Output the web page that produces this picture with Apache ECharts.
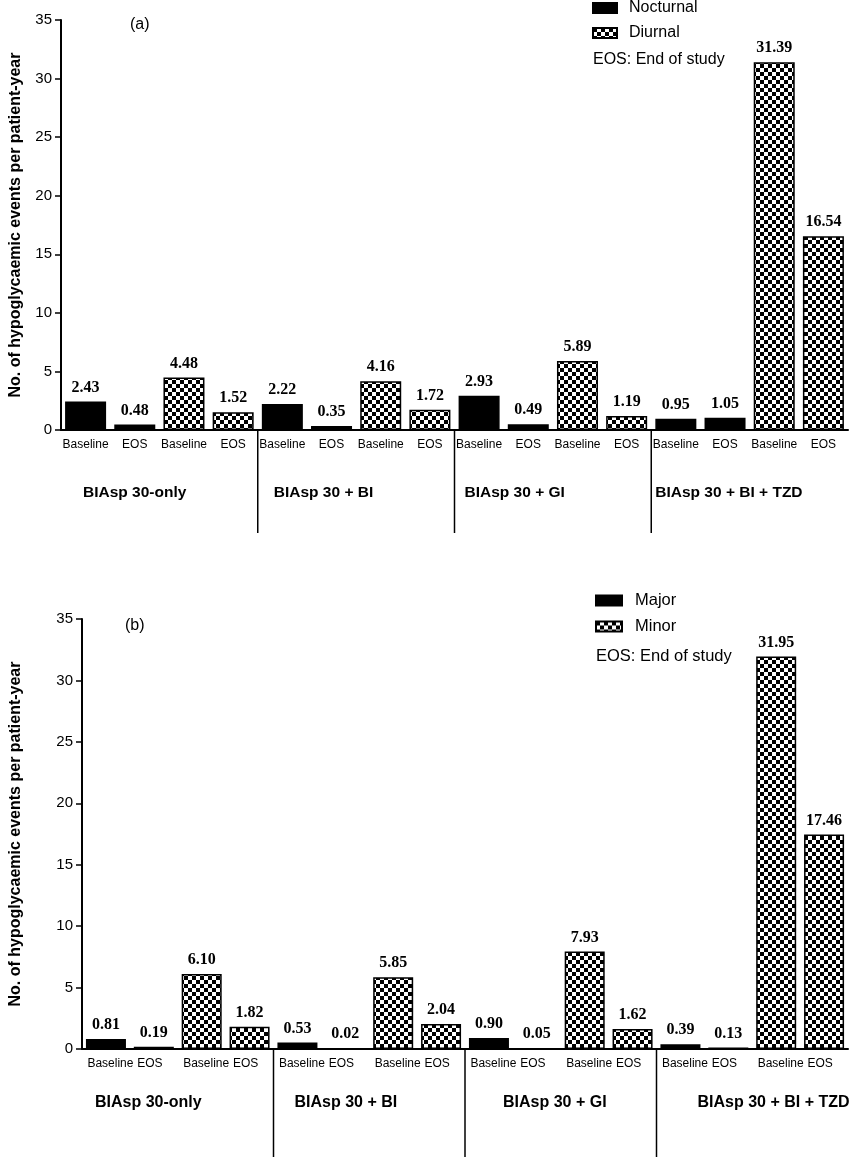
<!DOCTYPE html>
<html><head><meta charset="utf-8">
<script src="https://cdn.jsdelivr.net/npm/echarts@6/dist/echarts.min.js"></script>
<style>html,body{margin:0;padding:0;background:#fff}#c{width:850px;height:1159px}</style>
</head><body><div id="c"></div>
<script>
// ---- data ----
const groups = ['BIAsp 30-only', 'BIAsp 30 + BI', 'BIAsp 30 + GI', 'BIAsp 30 + BI + TZD'];
const timepoints = ['Baseline', 'EOS'];
const yTicks = [0, 5, 10, 15, 20, 25, 30, 35];
const yAxisTitle = 'No. of hypoglycaemic events per patient-year';
const noteText = 'EOS: End of study';
// panel (a): [Baseline, EOS] per group
const nocturnal = [2.43, 0.48, 2.22, 0.35, 2.93, 0.49, 0.95, 1.05];
const diurnal   = [4.48, 1.52, 4.16, 1.72, 5.89, 1.19, 31.39, 16.54];
// panel (b)
const major = [0.81, 0.19, 0.53, 0.02, 0.90, 0.05, 0.39, 0.13];
const minor = [6.10, 1.82, 5.85, 2.04, 7.93, 1.62, 31.95, 17.46];

// ---- build categories: group x kind x timepoint ----
const categories = [];
groups.forEach((g, gi) => [0, 1].forEach(k => timepoints.forEach((t, ti) => categories.push(gi + '|' + k + '|' + t))));

function slotData(values, kind) {
  return categories.map(c => {
    const [gi, k, t] = c.split('|');
    if (+k !== kind) return '-';
    return values[(+gi) * 2 + timepoints.indexOf(t)];
  });
}

// checker pattern
const pc = document.createElement('canvas');
pc.width = 8; pc.height = 8;
const pctx = pc.getContext('2d');
pctx.fillStyle = '#fff'; pctx.fillRect(0, 0, 8, 8);
pctx.fillStyle = '#000'; pctx.fillRect(0, 0, 4, 4); pctx.fillRect(4, 4, 4, 4);
const checker = { image: pc, repeat: 'repeat' };

const SANS = '"Liberation Sans", Arial, sans-serif';
const SERIF = '"Liberation Serif", "Times New Roman", serif';

const grids = [
  { left: 58, top: 20, right: 2, height: 410 },
  { left: 79, top: 619, right: 2, height: 430 }
];

function xAxisFor(i, rich) {
  return {
    type: 'category', gridIndex: i, data: categories,
    axisLine: { lineStyle: { color: '#000', width: 2 } },
    axisTick: { show: false },
    axisLabel: {
      interval: 0, margin: 9, color: '#000', fontFamily: SANS, fontSize: 12,
      formatter: v => { const t = v.split('|')[2]; return rich ? (t === 'EOS' ? '{e|EOS}' : '{b|Baseline}') : t; },
      rich: rich ? { b: { padding: [0, 0, 0, 9], fontSize: 12, fontFamily: SANS, color: '#000' }, e: { padding: [0, 8, 0, 0], fontSize: 12, fontFamily: SANS, color: '#000' } } : undefined
    },
    splitLine: { show: false }
  };
}
function yAxisFor(i, gap) {
  return {
    type: 'value', gridIndex: i, min: yTicks[0], max: yTicks[yTicks.length - 1], interval: 5,
    name: yAxisTitle, nameLocation: 'middle', nameGap: gap,
    nameTextStyle: { fontFamily: SANS, fontWeight: 'bold', fontSize: 16, color: '#000' },
    axisLine: { show: true, lineStyle: { color: '#000', width: 2 } },
    axisTick: { show: true, length: 6, lineStyle: { color: '#000', width: 1.5 } },
    axisLabel: { color: '#000', fontFamily: SANS, fontSize: 15, margin: 9 },
    splitLine: { show: false }
  };
}
function barSeries(name, values, kind, gi, pattern, bw) {
  return {
    name, type: 'bar', xAxisIndex: gi, yAxisIndex: gi,
    data: slotData(values, kind), barWidth: bw, barGap: '-100%',
    itemStyle: { color: pattern ? checker : '#000', borderColor: '#000', borderWidth: 1.5 },
    label: {
      show: true, position: 'top', distance: 6, color: '#000',
      fontFamily: SERIF, fontWeight: 'bold', fontSize: 16,
      formatter: p => (typeof p.value === 'number' ? p.value.toFixed(2) : '')
    },
    emphasis: { disabled: true }, animation: false
  };
}

const chart = echarts.init(document.getElementById('c'), null, { renderer: 'canvas' });
chart.setOption({
  animation: false,
  backgroundColor: '#fff',
  grid: grids,
  xAxis: [xAxisFor(0, false), xAxisFor(1, true)],
  yAxis: [yAxisFor(0, 37), yAxisFor(1, 58)],
  legend: [
    { data: ['Nocturnal', 'Diurnal'], orient: 'vertical', left: 592, top: 0, padding: 0, itemGap: 9,
      itemWidth: 24, itemHeight: 10, icon: 'rect',
      textStyle: { fontFamily: SANS, fontSize: 16, color: '#000', padding: [0, 0, 0, 7] } },
    { data: ['Major', 'Minor'], orient: 'vertical', left: 595, top: 592, padding: 0, itemGap: 9,
      itemWidth: 26, itemHeight: 10, icon: 'rect',
      textStyle: { fontFamily: SANS, fontSize: 16.5, color: '#000', padding: [0, 0, 0, 8] } }
  ],
  series: [
    barSeries('Nocturnal', nocturnal, 0, 0, false, 41),
    barSeries('Diurnal', diurnal, 1, 0, true, 41),
    barSeries('Major', major, 0, 1, false, 40),
    barSeries('Minor', minor, 1, 1, true, 40)
  ]
});

// ---- annotations computed from the axes ----
const panels = [
  { tag: '(a)', tagPos: [130, 25], notePos: [593, 60], noteSize: 16, labelOffsets: [22, 16, 10, 4], labelY: 493, sepLen: 103, labelSize: 15.5 },
  { tag: '(b)', tagPos: [125, 626], notePos: [596, 656], noteSize: 16.5, labelOffsets: [13, 21, 38, 41], labelY: 1103, sepLen: 108, labelSize: 16 }
];
const graphic = [];
panels.forEach((p, gi) => {
  const pt = idx => chart.convertToPixel({ gridIndex: gi }, [categories[idx], 0]);
  const half = (pt(1)[0] - pt(0)[0]) / 2;
  const y0 = pt(0)[1];
  groups.forEach((g, k) => {
    const startX = pt(k * 4)[0] - half;
    if (k > 0) {
      graphic.push({ type: 'line', silent: true, shape: { x1: startX, y1: y0, x2: startX, y2: y0 + p.sepLen },
        style: { stroke: '#000', lineWidth: 1.5 } });
    }
    graphic.push({ type: 'text', silent: true, x: startX + p.labelOffsets[k], y: p.labelY,
      style: { text: g, font: 'bold ' + p.labelSize + 'px ' + SANS, fill: '#000', textAlign: 'left', textVerticalAlign: 'middle', align: 'left', verticalAlign: 'middle' } });
  });
  graphic.push({ type: 'text', silent: true, x: p.tagPos[0], y: p.tagPos[1],
    style: { text: p.tag, font: '16px ' + SANS, fill: '#000', textAlign: 'left', textVerticalAlign: 'middle', align: 'left', verticalAlign: 'middle' } });
  graphic.push({ type: 'text', silent: true, x: p.notePos[0], y: p.notePos[1],
    style: { text: noteText, font: p.noteSize + 'px ' + SANS, fill: '#000', textAlign: 'left', textVerticalAlign: 'middle', align: 'left', verticalAlign: 'middle' } });
});
chart.setOption({ graphic });
</script>
</body></html>
